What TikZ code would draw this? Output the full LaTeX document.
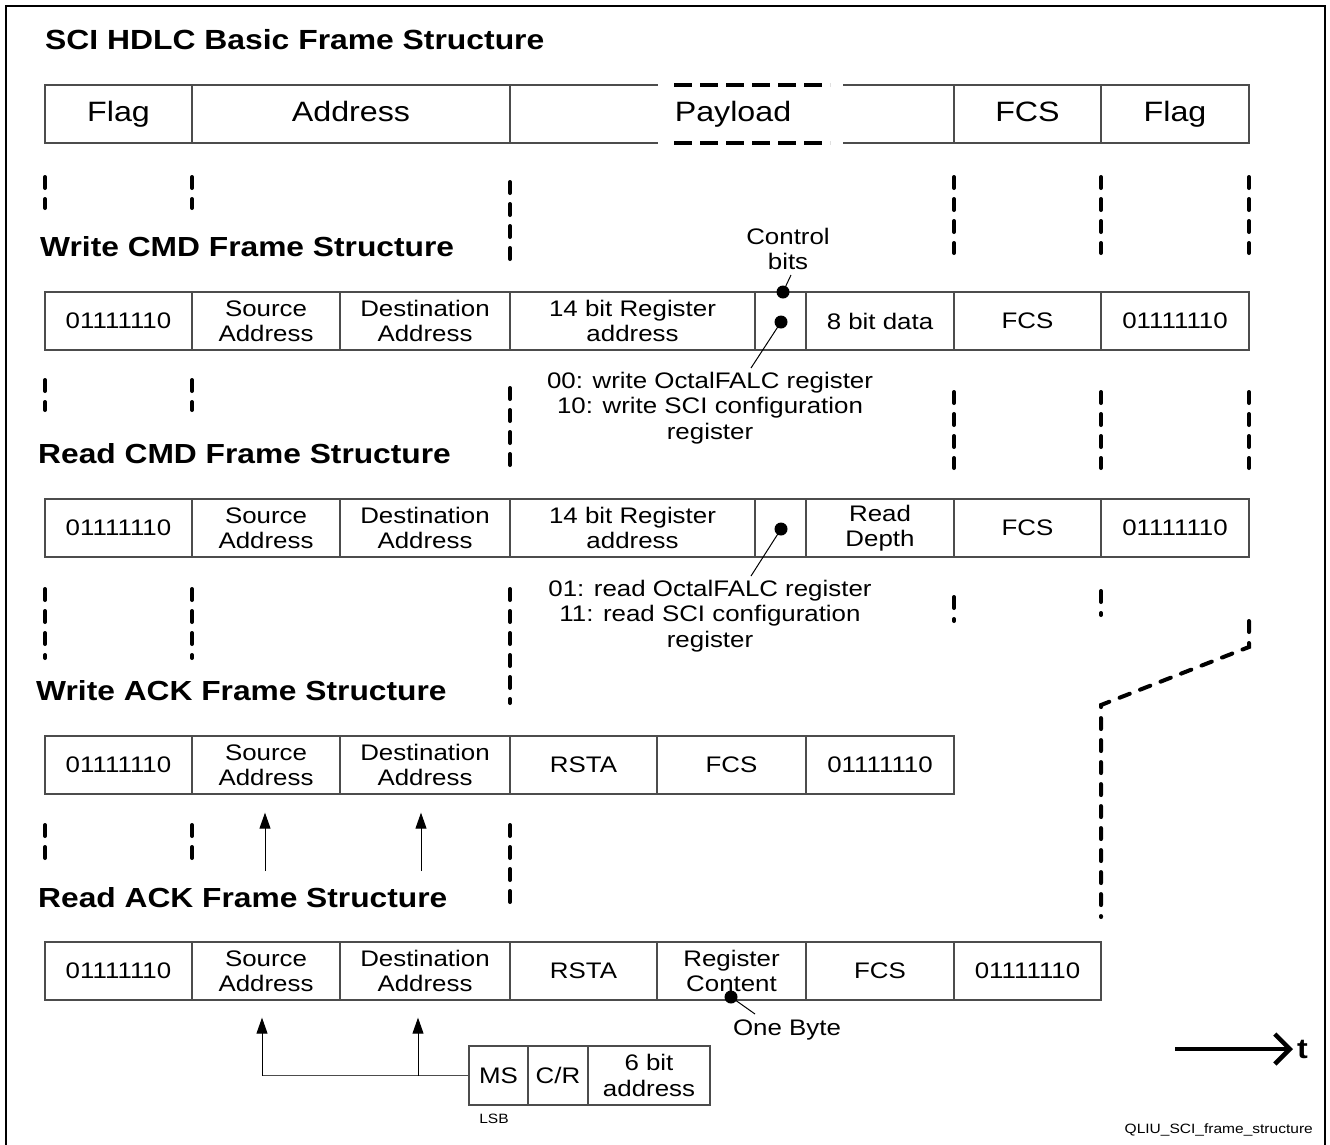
\documentclass[tikz,border=0pt]{standalone}
\usepackage{fontspec}
\setmainfont[FakeStretch=1.15]{Liberation Sans}
\usetikzlibrary{arrows.meta}
\definecolor{boxc}{gray}{0.3}
\newcommand\celltxt{\fontsize{22.5}{25.5}\selectfont}
\newcommand\toptxt{\fontsize{28}{32}\selectfont}
\newcommand\titletxt{\fontsize{27.7}{32}\selectfont\bfseries}
\newcommand\headtxt{\fontsize{27.6}{32}\selectfont\bfseries}
\newcommand\annot{\fontsize{22.5}{25.5}\selectfont}
\newcommand\smalltxt{\fontsize{13.5}{16}\selectfont}
\begin{document}
\begin{tikzpicture}[x=1pt,y=-1pt,
  cell/.style={draw=boxc, line width=1.3pt, minimum height=58pt, inner sep=0pt, align=center, font=\celltxt},
  topcell/.style={cell, font=\toptxt, text height=20pt, text depth=5pt},
  head/.style={anchor=west, inner sep=0pt, font=\headtxt},
  annotation/.style={align=center, inner sep=0pt, font=\annot},
  vguide/.style={line width=4pt, dash pattern=on 11pt off 11pt, line cap=round},
  pdash/.style={line width=3.5pt, dash pattern=on 18pt off 8pt},
  bdot/.style={circle, fill=black, inner sep=0pt, minimum size=13pt},
  thin/.style={line width=1pt},
  arr/.style={line width=1pt, -{Triangle[width=11pt,length=16pt]}}
]
\useasboundingbox (0,0) rectangle (1330,1144);
% border
\draw[line width=1.5pt] (6,1146) -- (6,6) -- (1325,6) -- (1325,1146);

% title
\node[head, font=\titletxt] (title) at (45,40) {SCI HDLC Basic Frame Structure};

% row 0: basic frame
\node[topcell, minimum width=147pt] (f0) at (118.5,114) {Flag};
\node[topcell, minimum width=318pt] (a0) at (351,114) {Address};
\node[font=\toptxt, inner sep=0pt, text height=20pt, text depth=5pt] (p0) at (733,114) {Payload};
\node[topcell, minimum width=147pt] (c0) at (1027.5,114) {FCS};
\node[topcell, minimum width=148pt] (g0) at (1175,114) {Flag};
\draw[boxc, line width=1.3pt] (510,85) -- (658,85) (843,85) -- (954,85)
      (510,143) -- (658,143) (843,143) -- (954,143);
\draw[pdash] (674,85) -- (830,85);
\draw[pdash] (674,143) -- (830,143);

% guides after row 0
\foreach \x/\a/\b in {45/175/210, 192/175/210, 510/180/270, 954/175/255, 1101/175/255, 1249/175/255}
  \draw[vguide] (\x,\a+2) -- (\x,\b-2);

% Write CMD
\node[head] (hw) at (40,247) {Write CMD Frame Structure};
\node[cell, minimum width=147pt] (w1) at (118.5,321) {01111110};
\node[cell, minimum width=148pt] (w2) at (266,321) {Source\\Address};
\node[cell, minimum width=170pt] (w3) at (425,321) {Destination\\Address};
\node[cell, minimum width=245pt] (w4) at (632.5,321) {14 bit Register\\address};
\node[cell, minimum width=51pt] (w5) at (780.5,321) {};
\node[cell, minimum width=148pt] (w6) at (880,321) {8 bit data};
\node[cell, minimum width=147pt] (w7) at (1027.5,321) {FCS};
\node[cell, minimum width=148pt] (w8) at (1175,321) {01111110};
\node[bdot] (cb1) at (783,292) {};
\node[bdot] (cb2) at (781,322) {};
\node[annotation] (ctl) at (788,249) {Control\\bits};
\coordinate (cbt) at (791,275);
\draw[thin] (cb1.center) -- (cbt);
\node[annotation] (wn) at (710,408) {00: write OctalFALC register\\10: write SCI configuration\\register};
\coordinate (wl) at (751,368);
\draw[thin] (cb2.center) -- (wl);

% guides after row 1
\foreach \x/\a/\b in {45/378/412, 192/378/412, 510/386/467, 954/390/470, 1101/390/470, 1249/390/470}
  \draw[vguide] (\x,\a+2) -- (\x,\b-2);

% Read CMD
\node[head] (hr) at (38,454) {Read CMD Frame Structure};
\node[cell, minimum width=147pt] (r1) at (118.5,528) {01111110};
\node[cell, minimum width=148pt] (r2) at (266,528) {Source\\Address};
\node[cell, minimum width=170pt] (r3) at (425,528) {Destination\\Address};
\node[cell, minimum width=245pt] (r4) at (632.5,528) {14 bit Register\\address};
\node[cell, minimum width=51pt] (r5) at (780.5,528) {};
\node[cell, minimum width=148pt] (r6) at (880,528) {Read\\Depth};
\node[cell, minimum width=147pt] (r7) at (1027.5,528) {FCS};
\node[cell, minimum width=148pt] (r8) at (1175,528) {01111110};
\node[bdot] (rd) at (781,529) {};
\node[annotation] (rn) at (710,616) {01: read OctalFALC register\\11: read SCI configuration\\register};
\coordinate (rl) at (751,576);
\draw[thin] (rd.center) -- (rl);

% guides after row 2
\foreach \x/\a/\b in {45/587/660, 192/587/660, 510/587/705, 954/595/623, 1101/589/617}
  \draw[vguide] (\x,\a+2) -- (\x,\b-2);
\draw[vguide] (1249,621) -- (1249,647) -- (1101,705) -- (1101,917);

% Write ACK
\node[head] (hwa) at (36,691) {Write ACK Frame Structure};
\node[cell, minimum width=147pt] (k1) at (118.5,765) {01111110};
\node[cell, minimum width=148pt] (k2) at (266,765) {Source\\Address};
\node[cell, minimum width=170pt] (k3) at (425,765) {Destination\\Address};
\node[cell, minimum width=147pt] (k4) at (583.5,765) {RSTA};
\node[cell, minimum width=149pt] (k5) at (731.5,765) {FCS};
\node[cell, minimum width=148pt] (k6) at (880,765) {01111110};

% guides after row 3
\foreach \x/\a/\b in {45/823/860, 192/823/860, 510/823/905}
  \draw[vguide] (\x,\a+2) -- (\x,\b-2);
\coordinate (ka1) at (265,871);
\coordinate (ka2) at (421,871);
\draw[arr, shorten >=18pt] (ka1) -- (ka1 |- k2.south);
\draw[arr, shorten >=18pt] (ka2) -- (ka2 |- k3.south);

% Read ACK
\node[head] (hra) at (38,898) {Read ACK Frame Structure};
\node[cell, minimum width=147pt] (q1) at (118.5,971) {01111110};
\node[cell, minimum width=148pt] (q2) at (266,971) {Source\\Address};
\node[cell, minimum width=170pt] (q3) at (425,971) {Destination\\Address};
\node[cell, minimum width=147pt] (q4) at (583.5,971) {RSTA};
\node[cell, minimum width=149pt] (q5) at (731.5,971) {Register\\Content};
\node[cell, minimum width=148pt] (q6) at (880,971) {FCS};
\node[cell, minimum width=147pt] (q7) at (1027.5,971) {01111110};
\node[bdot] (ob) at (731,997) {};
\node[annotation] (obt) at (787,1030) {One Byte};
\coordinate (obl) at (755,1014);
\draw[thin] (ob.center) -- (obl);

% address byte
\node[cell, minimum width=59pt, minimum height=59pt] (m1) at (498.5,1075.5) {MS};
\node[cell, minimum width=60pt, minimum height=59pt] (m2) at (558,1075.5) {C/R};
\node[cell, minimum width=122pt, minimum height=59pt] (m3) at (649,1075.5) {6 bit\\address};
\node[font=\smalltxt, inner sep=0pt] (lsb) at (494,1119) {LSB};
\coordinate (j1) at (262,1075.5);
\coordinate (j2) at (418,1075.5);
\draw[thin, boxc] (m1.west) -- (j1);
\draw[arr, shorten >=17pt] (j1) -- (j1 |- q2.south);
\draw[arr, shorten >=17pt] (j2) -- (j2 |- q3.south);

% time arrow
\coordinate (t0) at (1175,1049);
\node[font=\fontsize{28}{30}\selectfont\bfseries, inner sep=0pt, anchor=west] (tl) at (1297,1049) {t};
\draw[line width=4.5pt, -{Straight Barb[length=15pt,width=30pt,line width=4.5pt]}, shorten >=4pt] (t0) -- (tl.west);

% file label
\node[font=\smalltxt, inner sep=0pt, anchor=east] (fl) at (1313,1130) {QLIU\_SCI\_frame\_structure};
\end{tikzpicture}
\end{document}
